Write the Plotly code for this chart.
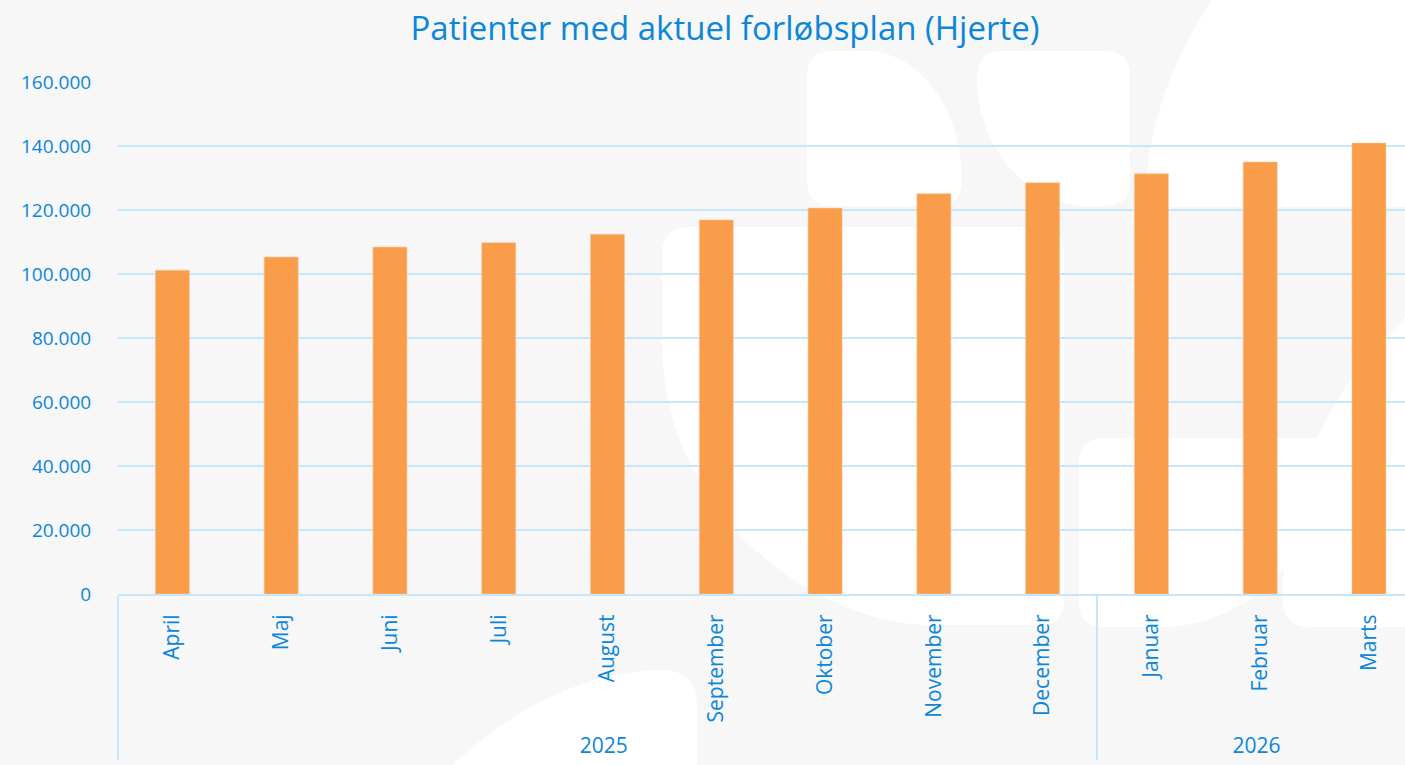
import re
import plotly.graph_objects as go

# ---- data ----
years = ["2025"] * 9 + ["2026"] * 3
months = ["April", "Maj", "Juni", "Juli", "August", "September", "Oktober",
          "November", "December", "Januar", "Februar", "Marts"]
values = [101200, 105300, 108400, 109800, 112400, 116900, 120600,
          125100, 128500, 131300, 135000, 140900]
y_ticks = [0, 20000, 40000, 60000, 80000, 100000, 120000, 140000, 160000]
title_text = "Patienter med aktuel forløbsplan (Hjerte)"

# ---- geometry / style ----
W, H = 1405, 765
ML, MR, MT, MB = 118, 0, 82, 171
PW, PH = W - ML - MR, H - MT - MB
BLUE = "#0b86d8"
GRID = "#c6e6fb"
ORANGE = "#f99d4a"
FONT = "Open Sans"


def to_paper(path):
    def rep(m):
        x = float(m.group(1))
        y = float(m.group(2))
        return f"{(x - ML) / PW:.5f},{(H - MB - y) / PH:.5f}"
    return re.sub(r"(-?\d+\.?\d*),(-?\d+\.?\d*)", rep, path)


# decorative watermark shapes (pixel coordinates of the background logo)
deco_paths = [
    "M 832,51 L 874,51 C 930,60 962,120 962,180 Q 962,206 936,206 L 832,206 Q 807,206 807,181 L 807,76 Q 807,51 832,51 Z",
    "M 1001,51 L 1105,51 Q 1130,51 1130,76 L 1130,181 Q 1130,206 1105,206 L 1080,206 C 1020,200 977,140 977,80 Q 977,51 1001,51 Z",
    "M 1212,0 C 1172,60 1145,130 1145,207 L 1405,207 L 1405,0 Z",
    "M 689,227 L 1040,227 Q 1064,227 1064,251 L 1064,600 Q 1064,625 1040,625 L 926,625 C 820,622 662,520 662,340 L 662,254 Q 662,227 689,227 Z",
    "M 1104,438 L 1320,438 L 1320,520 C 1290,570 1240,627 1160,627 L 1104,627 Q 1079,627 1079,602 L 1079,463 Q 1079,438 1104,438 Z",
    "M 1405,318 C 1330,390 1283,480 1283,600 Q 1283,627 1310,627 L 1405,627 Z",
    "M 453,765 C 520,700 600,670 660,670 Q 697,670 697,705 L 697,765 Z",
]
shapes = [
    dict(type="path", path=to_paper(p), xref="paper", yref="paper",
         fillcolor="white", line=dict(width=0), layer="below")
    for p in deco_paths
]

fig = go.Figure(
    go.Bar(
        x=[years, months],
        y=values,
        marker=dict(color=ORANGE, line=dict(color="#fcc596", width=0.6)),
        hoverinfo="skip",
    )
)

fig.update_layout(
    width=W,
    height=H,
    margin=dict(l=ML, r=MR, t=MT, b=MB, pad=0),
    paper_bgcolor="#f7f7f7",
    plot_bgcolor="rgba(0,0,0,0)",
    separators=",.",
    bargap=0.6875,
    showlegend=False,
    shapes=shapes,
    font=dict(family=FONT, color=BLUE, size=20),
    title=dict(
        text=title_text,
        font=dict(family=FONT, size=33, color=BLUE),
        x=0.516, xref="container", xanchor="center",
        y=1 - 28 / H, yref="container", yanchor="middle",
    ),
    xaxis=dict(
        type="multicategory",
        range=[-0.5, 11.331],
        tickangle=-90,
        tickfont=dict(family=FONT, size=21, color=BLUE),
        ticklabelstandoff=10,
        showline=True, linecolor=GRID, linewidth=2,
        showgrid=False,
        showdividers=True, dividercolor=GRID, dividerwidth=1.5,
        ticks="",
    ),
    yaxis=dict(
        range=[0, 160000],
        tickvals=y_ticks,
        tickformat=",d",
        tickfont=dict(family=FONT, size=19, color=BLUE),
        showgrid=True, gridcolor=GRID, gridwidth=1.5,
        zeroline=False, showline=False,
        ticks="outside", ticklen=22, tickcolor="rgba(0,0,0,0)",
    ),
)

fig.write_html(
    "out.html",
    config={"displayModeBar": False},
    post_script="document.body.style.margin='0';document.body.style.padding='0';",
)
